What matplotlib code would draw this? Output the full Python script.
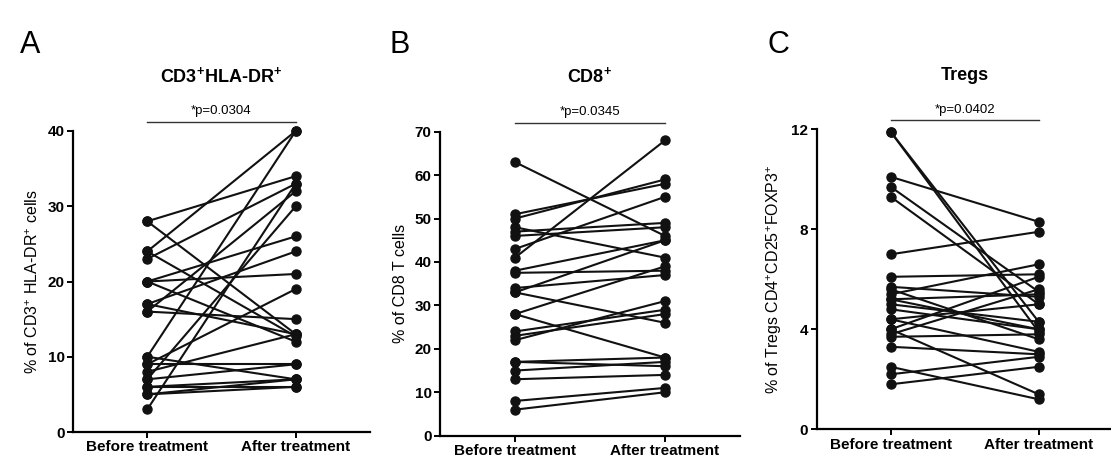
import matplotlib
matplotlib.use("Agg")
import matplotlib.pyplot as plt

plt.rcParams['font.family'] = ['Liberation Sans', 'DejaVu Sans']
plt.rcParams['mathtext.fontset'] = 'custom'
plt.rcParams['mathtext.rm'] = 'Liberation Sans'
plt.rcParams['mathtext.bf'] = 'Liberation Sans:bold'
plt.rcParams['mathtext.it'] = 'Liberation Sans:italic'

groups = ["Before treatment", "After treatment"]

# Panel A: CD3+HLA-DR+
a_before = [28, 28, 24, 24, 23, 20, 20, 20, 17, 17, 16, 16, 10, 10, 9, 9, 8, 7, 7, 6, 6, 5, 5, 3]
a_after  = [34, 13, 40, 12.7, 33, 26, 21, 12, 24, 13, 32, 15, 40, 7, 19, 9, 13, 9, 30, 7, 6, 7, 6, 33]

# Panel B: CD8+
b_before = [63, 51, 50, 48, 47, 46, 43, 41, 38, 37.5, 34, 33, 33, 28, 28, 24, 23, 22, 17, 17, 15, 13, 8, 6]
b_after  = [46, 58, 59, 41, 49, 48, 55, 68, 45, 38, 37, 45, 26, 39, 18, 29, 28, 31, 18, 16, 17, 14, 11, 10]

# Panel C: Tregs
c_before = [11.9, 11.9, 10.1, 9.7, 9.3, 7.0, 6.1, 5.7, 5.6, 5.4, 5.2, 5.0, 4.8, 4.4, 4.0, 4.0, 3.8, 3.7, 3.3, 2.5, 2.2, 1.8, 5.2, 4.4]
c_after  = [4.3, 3.9, 8.3, 5.5, 5.0, 7.9, 6.2, 5.3, 3.6, 6.6, 5.4, 4.3, 4.0, 3.1, 1.4, 6.1, 5.6, 3.8, 3.0, 1.2, 2.9, 2.5, 4.0, 5.0]

panels = [
    dict(letter="A", title=r"CD3$^{\mathbf{+}}$HLA-DR$^{\mathbf{+}}$", p="*p=0.0304",
         ylabel=r"% of CD3$^{+}$ HLA-DR$^{+}$ cells", before=a_before, after=a_after,
         ylim=(0, 40), yticks=[0, 10, 20, 30, 40],
         rect=[73 / 1111, 34 / 466, 297 / 1111, 301 / 466]),
    dict(letter="B", title=r"CD8$^{\mathbf{+}}$", p="*p=0.0345",
         ylabel="% of CD8 T cells", before=b_before, after=b_after,
         ylim=(0, 70), yticks=[0, 10, 20, 30, 40, 50, 60, 70],
         rect=[440 / 1111, 30.3 / 466, 300 / 1111, 304 / 466]),
    dict(letter="C", title="Tregs", p="*p=0.0402",
         ylabel=r"% of Tregs CD4$^{+}$CD25$^{+}$FOXP3$^{+}$", before=c_before, after=c_after,
         ylim=(0, 12), yticks=[0, 4, 8, 12],
         rect=[816.7 / 1111, 36.7 / 466, 296 / 1111, 300 / 466]),
]

letter_x = [30, 400, 778]

fig = plt.figure(figsize=(11.11, 4.66), dpi=100)

for i, pn in enumerate(panels):
    ax = fig.add_axes(pn["rect"])
    for b, a in zip(pn["before"], pn["after"]):
        ax.plot([0, 1], [b, a], color="#111111", lw=1.5, marker="o", ms=6.5,
                markerfacecolor="#111111", markeredgecolor="#111111", clip_on=False, zorder=3)
    ax.set_xlim(-0.5, 1.5)
    ax.set_ylim(*pn["ylim"])
    ax.set_yticks(pn["yticks"])
    ax.set_xticks([0, 1])
    ax.set_xticklabels(groups, fontsize=11, fontweight="bold")
    for lab in ax.get_yticklabels():
        lab.set_fontweight("bold")
        lab.set_fontsize(11)
    ax.spines["top"].set_visible(False)
    ax.spines["right"].set_visible(False)
    ax.spines["left"].set_linewidth(1.6)
    ax.spines["bottom"].set_linewidth(1.6)
    ax.tick_params(axis="both", width=1.4, length=4, pad=2)
    ax.set_ylabel(pn["ylabel"], fontsize=11.5, labelpad=5)
    # significance bar
    ytop = pn["ylim"][1]
    ax.plot([0, 1], [ytop * 1.03, ytop * 1.03], color="#333333", lw=1.0, clip_on=False,
            transform=ax.transData)
    ax.text(0.5, ytop * 1.045, pn["p"], ha="center", va="bottom", fontsize=9.5)
    ax.text(0.5, ytop * 1.15, pn["title"], ha="center", va="bottom", fontsize=13,
            fontweight="bold")
    fig.text(letter_x[i] / 1111, 1 - 45 / 466, pn["letter"], fontsize=22, ha="center",
             va="center")

fig.savefig("out.png", dpi=100)
